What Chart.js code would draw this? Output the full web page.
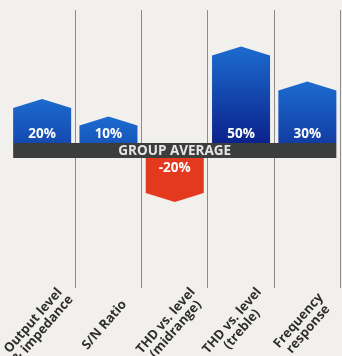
<!DOCTYPE html>
<html>
<head>
<meta charset="utf-8">
<script src="https://cdn.jsdelivr.net/npm/chart.js@4/dist/chart.umd.min.js"></script>
<style>
  html, body { margin: 0; padding: 0; background: #f2f0ec; }
  #wrap { width: 342px; height: 356px; position: relative; }
</style>
</head>
<body>
<div id="wrap"><canvas id="chart"></canvas></div>
<script>
// Data
const categories = [
  ['Output level', '& impedance'],
  ['S/N Ratio'],
  ['THD vs. level', '(midrange)'],
  ['THD vs. level', '(treble)'],
  ['Frequency', 'response']
];
const differences = [20, 10, -20, 50, 30];
const valueLabels = ['20%', '10%', '-20%', '50%', '30%'];
const bandLabel = 'GROUP AVERAGE';

const FONT = '"Open Sans", "DejaVu Sans", sans-serif';
const HALF_BAND = 7.5; // half height of the group average strip, px
const CAP = 9;         // height of the pointed bar top, px

// Draws the pentagon bars, the group average strip and all labels
const shapesPlugin = {
  id: 'shapes',
  afterDatasetsDraw(chart) {
    const { ctx } = chart;
    const meta = chart.getDatasetMeta(0);
    const bars = meta.data;

    bars.forEach((el, i) => {
      const up = differences[i] >= 0;
      const sign = up ? -1 : 1;
      const left = el.x - el.width / 2;
      const right = el.x + el.width / 2;
      const inner = el.base + sign * HALF_BAND;
      const shoulder = el.y + sign * HALF_BAND;
      const peak = shoulder + sign * CAP;

      let fill;
      if (up) {
        fill = ctx.createLinearGradient(0, peak, 0, peak + 100);
        fill.addColorStop(0, '#1c6bcf');
        fill.addColorStop(1, '#0b2089');
      } else {
        fill = '#e33a1f';
      }

      ctx.save();
      ctx.beginPath();
      ctx.moveTo(left, inner);
      ctx.lineTo(left, shoulder);
      ctx.lineTo(el.x, peak);
      ctx.lineTo(right, shoulder);
      ctx.lineTo(right, inner);
      ctx.closePath();
      ctx.fillStyle = fill;
      ctx.fill();
      ctx.restore();
    });

    // Group average strip
    const first = bars[0];
    const last = bars[bars.length - 1];
    const zero = chart.scales.y.getPixelForValue(0);
    const x0 = first.x - first.width / 2;
    const x1 = last.x + last.width / 2;
    ctx.save();
    ctx.fillStyle = '#3b3e3d';
    ctx.fillRect(x0, zero - HALF_BAND, x1 - x0, HALF_BAND * 2);
    ctx.fillStyle = '#e6e6e4';
    ctx.font = `bold 13.5px ${FONT}`;
    ctx.textAlign = 'center';
    ctx.textBaseline = 'middle';
    ctx.fillText(bandLabel, (x0 + x1) / 2, zero + 0.5);

    // Value labels
    ctx.font = `bold 13.5px ${FONT}`;
    ctx.fillStyle = '#ffffff';
    bars.forEach((el, i) => {
      const up = differences[i] >= 0;
      const y = up ? zero - HALF_BAND - 9 : zero + HALF_BAND + 10;
      ctx.fillText(valueLabels[i], el.x, y);
    });

    // Rotated category labels
    ctx.fillStyle = '#2e2e2e';
    ctx.font = `bold 13px ${FONT}`;
    const xScale = chart.scales.x;
    categories.forEach((lines, i) => {
      ctx.save();
      ctx.translate(xScale.getPixelForValue(i) - 4, 325);
      ctx.rotate(-49 * Math.PI / 180);
      lines.forEach((line, j) => {
        ctx.fillText(line, 0, (j - (lines.length - 1) / 2) * 13);
      });
      ctx.restore();
    });
    ctx.restore();
  }
};

new Chart(document.getElementById('chart'), {
  type: 'bar',
  data: {
    labels: categories,
    datasets: [{
      data: differences,
      backgroundColor: 'rgba(0,0,0,0)',
      borderWidth: 0,
      barPercentage: 0.875,
      categoryPercentage: 1
    }]
  },
  options: {
    responsive: true,
    maintainAspectRatio: false,
    animation: false,
    layout: { padding: { top: 10, bottom: 68, left: 9, right: 1.5 } },
    plugins: {
      legend: { display: false },
      tooltip: { enabled: false }
    },
    scales: {
      x: {
        ticks: { display: false },
        border: { display: false },
        grid: {
          offset: true,
          drawTicks: false,
          lineWidth: 1,
          color: c => (c.index === 0 || c.index === categories.length) ? 'rgba(0,0,0,0)' : '#8e8c8a'
        }
      },
      y: {
        display: false,
        min: -78.6,
        max: 80.3
      }
    }
  },
  plugins: [shapesPlugin]
});
</script>
</body>
</html>
